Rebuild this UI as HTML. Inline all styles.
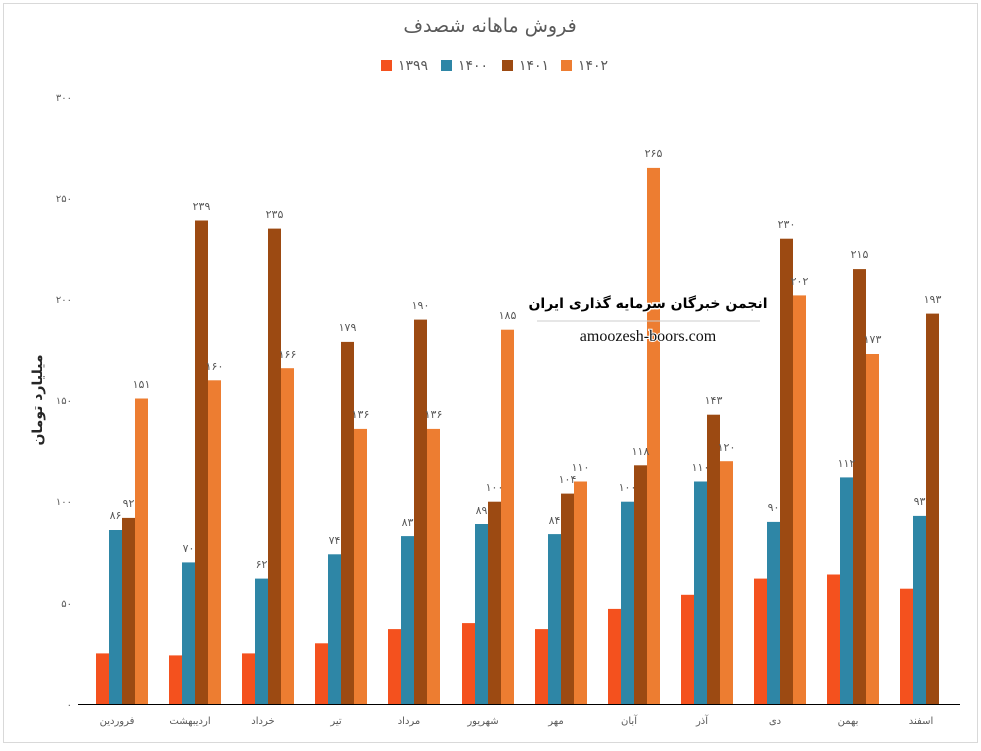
<!DOCTYPE html>
<html><head><meta charset="utf-8"><style>
body{margin:0;background:#fff;}
svg text{font-family:"DejaVu Sans","Liberation Sans",sans-serif;}
</style></head><body>
<svg width="981" height="746" xmlns="http://www.w3.org/2000/svg">
<rect x="3.5" y="3.5" width="974" height="739" fill="#fff" stroke="#d9d9d9"/>
<text x="490" y="32" text-anchor="middle" font-size="19" fill="#595959">فروش ماهانه شصدف</text>
<g font-size="14" fill="#595959">
<rect x="381" y="60" width="11" height="11" fill="#f4511e"/><text x="398" y="70">۱۳۹۹</text>
<rect x="441" y="60" width="11" height="11" fill="#2e86a6"/><text x="458" y="70">۱۴۰۰</text>
<rect x="502" y="60" width="11" height="11" fill="#9c4a12"/><text x="519" y="70">۱۴۰۱</text>
<rect x="561" y="60" width="11" height="11" fill="#ed7d31"/><text x="578" y="70">۱۴۰۲</text>
</g>
<g font-size="10" fill="#595959" text-anchor="end">
<text x="72" y="708">۰</text><text x="72" y="607">۵۰</text><text x="72" y="505">۱۰۰</text><text x="72" y="404">۱۵۰</text><text x="72" y="303">۲۰۰</text><text x="72" y="202">۲۵۰</text><text x="72" y="101">۳۰۰</text>
</g>
<text transform="translate(42,400) rotate(-90)" text-anchor="middle" font-size="14" font-weight="bold" fill="#262626">میلیارد تومان</text>
<line x1="78" y1="704.5" x2="960" y2="704.5" stroke="#000" stroke-width="1"/>
<g fill="#f4511e">
<rect x="96" y="653.4" width="13" height="50.6"/><rect x="169" y="655.4" width="13" height="48.6"/><rect x="242" y="653.4" width="13" height="50.6"/><rect x="315" y="643.3" width="13" height="60.7"/><rect x="388" y="629.1" width="13" height="74.9"/><rect x="462" y="623.1" width="13" height="80.9"/><rect x="535" y="629.1" width="13" height="74.9"/><rect x="608" y="608.9" width="13" height="95.1"/><rect x="681" y="594.8" width="13" height="109.2"/><rect x="754" y="578.6" width="13" height="125.4"/><rect x="827" y="574.5" width="13" height="129.5"/><rect x="900" y="588.7" width="13" height="115.3"/>
</g>
<g fill="#2e86a6">
<rect x="109" y="530" width="13" height="174"/><rect x="182" y="562.4" width="13" height="141.6"/><rect x="255" y="578.6" width="13" height="125.4"/><rect x="328" y="554.3" width="13" height="149.7"/><rect x="401" y="536.1" width="13" height="167.9"/><rect x="475" y="524" width="13" height="180"/><rect x="548" y="534.1" width="13" height="169.9"/><rect x="621" y="501.7" width="13" height="202.3"/><rect x="694" y="481.5" width="13" height="222.5"/><rect x="767" y="521.9" width="13" height="182.1"/><rect x="840" y="477.4" width="13" height="226.6"/><rect x="913" y="515.9" width="13" height="188.1"/>
</g>
<g fill="#9c4a12">
<rect x="122" y="517.9" width="13" height="186.1"/><rect x="195" y="220.5" width="13" height="483.5"/><rect x="268" y="228.6" width="13" height="475.4"/><rect x="341" y="341.9" width="13" height="362.1"/><rect x="414" y="319.6" width="13" height="384.4"/><rect x="488" y="501.7" width="13" height="202.3"/><rect x="561" y="493.6" width="13" height="210.4"/><rect x="634" y="465.3" width="13" height="238.7"/><rect x="707" y="414.7" width="13" height="289.3"/><rect x="780" y="238.7" width="13" height="465.3"/><rect x="853" y="269.1" width="13" height="434.9"/><rect x="926" y="313.6" width="13" height="390.4"/>
</g>
<g fill="#ed7d31">
<rect x="135" y="398.5" width="13" height="305.5"/><rect x="208" y="380.3" width="13" height="323.7"/><rect x="281" y="368.2" width="13" height="335.8"/><rect x="354" y="428.9" width="13" height="275.1"/><rect x="427" y="428.9" width="13" height="275.1"/><rect x="501" y="329.7" width="13" height="374.3"/><rect x="574" y="481.5" width="13" height="222.5"/><rect x="647" y="167.9" width="13" height="536.1"/><rect x="720" y="461.2" width="13" height="242.8"/><rect x="793" y="295.4" width="13" height="408.6"/><rect x="866" y="354" width="13" height="350"/>
</g>
<g font-size="11" fill="#595959" text-anchor="middle">
<text x="115.5" y="519">۸۶</text><text x="188.5" y="552">۷۰</text><text x="261.5" y="568">۶۲</text><text x="334.5" y="544">۷۴</text><text x="407.5" y="526">۸۳</text><text x="481.5" y="514">۸۹</text><text x="554.5" y="524">۸۴</text><text x="627.5" y="491">۱۰۰</text><text x="700.5" y="471">۱۱۰</text><text x="773.5" y="511">۹۰</text><text x="846.5" y="467">۱۱۲</text><text x="919.5" y="505">۹۳</text>
<text x="128.5" y="507">۹۲</text><text x="201.5" y="210">۲۳۹</text><text x="274.5" y="218">۲۳۵</text><text x="347.5" y="331">۱۷۹</text><text x="420.5" y="309">۱۹۰</text><text x="494.5" y="491">۱۰۰</text><text x="567.5" y="483">۱۰۴</text><text x="640.5" y="455">۱۱۸</text><text x="713.5" y="404">۱۴۳</text><text x="786.5" y="228">۲۳۰</text><text x="859.5" y="258">۲۱۵</text><text x="932.5" y="303">۱۹۳</text>
<text x="141.5" y="388">۱۵۱</text><text x="214.5" y="370">۱۶۰</text><text x="287.5" y="358">۱۶۶</text><text x="360.5" y="418">۱۳۶</text><text x="433.5" y="418">۱۳۶</text><text x="507.5" y="319">۱۸۵</text><text x="580.5" y="471">۱۱۰</text><text x="653.5" y="157">۲۶۵</text><text x="726.5" y="451">۱۲۰</text><text x="799.5" y="285">۲۰۲</text><text x="872.5" y="343">۱۷۳</text>
</g>
<g font-size="10" fill="#595959" text-anchor="middle">
<text x="117" y="724">فروردین</text><text x="190" y="724">اردیبهشت</text><text x="263" y="724">خرداد</text><text x="336" y="724">تیر</text><text x="409" y="724">مرداد</text><text x="483" y="724">شهریور</text><text x="556" y="724">مهر</text><text x="629" y="724">آبان</text><text x="702" y="724">آذر</text><text x="775" y="724">دی</text><text x="848" y="724">بهمن</text><text x="921" y="724">اسفند</text>
</g>
<text x="648" y="308" text-anchor="middle" font-size="14" font-weight="bold" fill="#000" stroke="#fff" stroke-width="3" paint-order="stroke">انجمن خبرگان سرمایه گذاری ایران</text>
<line x1="537" y1="321" x2="760" y2="321" stroke="#ccc"/>
<text x="648" y="341" text-anchor="middle" font-size="16" fill="#111" stroke="#fff" stroke-width="2" paint-order="stroke" style="font-family:'Liberation Serif',serif">amoozesh-boors.com</text>
</svg>
</body></html>
